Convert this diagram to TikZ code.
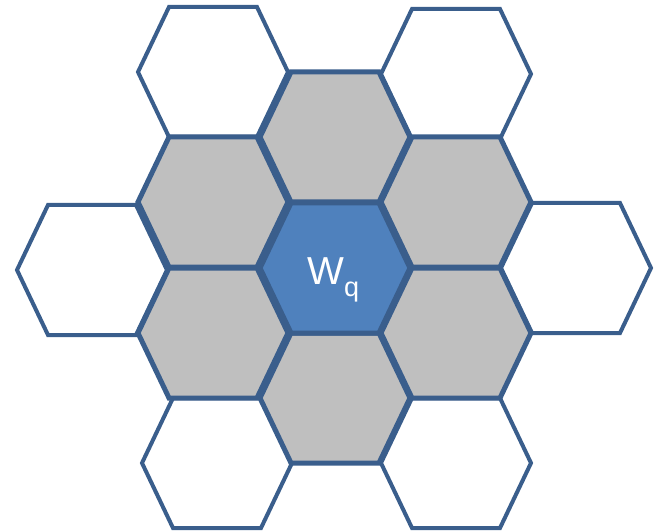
\documentclass[tikz,border=0pt]{standalone}
\usepackage{fontspec}
\setmainfont{Liberation Sans}
\definecolor{edgeblue}{RGB}{58,94,140}
\definecolor{cellgray}{RGB}{191,191,191}
\definecolor{cellblue}{RGB}{79,129,189}
\tikzset{
  whitecell/.style={draw=edgeblue,fill=white,line width=4pt,line join=miter},
  graycell/.style={draw=edgeblue,fill=cellgray,line width=5pt,line join=miter},
  bluecell/.style={draw=edgeblue,fill=cellblue,line width=5pt,line join=miter},
  hexcell/.pic={
    \path[pic actions] (-75,0) -- (-44,-65) -- (44,-65) -- (75,0) -- (44,65) -- (-44,65) -- cycle;
  }
}
\begin{document}
\begin{tikzpicture}[x=1pt,y=-1pt]
\useasboundingbox (0,0) rectangle (654,532);
% outer white ring
\foreach \cx/\cy in {213/72, 456/74, 92/270, 576/268, 217/463, 456/463}
  \pic[whitecell] at (\cx,\cy) {hexcell};
% gray neighbours
\foreach \cx/\cy in {335/137, 213/202, 456/202, 213/333, 456/333, 335/398}
  \pic[graycell] at (\cx,\cy) {hexcell};
% centre cell
\pic[bluecell] at (335,268) {hexcell};
\node[anchor=base west,inner sep=0pt,text=white] (wq) at (307,284)
  {\fontsize{39}{39}\selectfont W\raisebox{-12pt}{\fontsize{27}{27}\selectfont q}};
\end{tikzpicture}
\end{document}
